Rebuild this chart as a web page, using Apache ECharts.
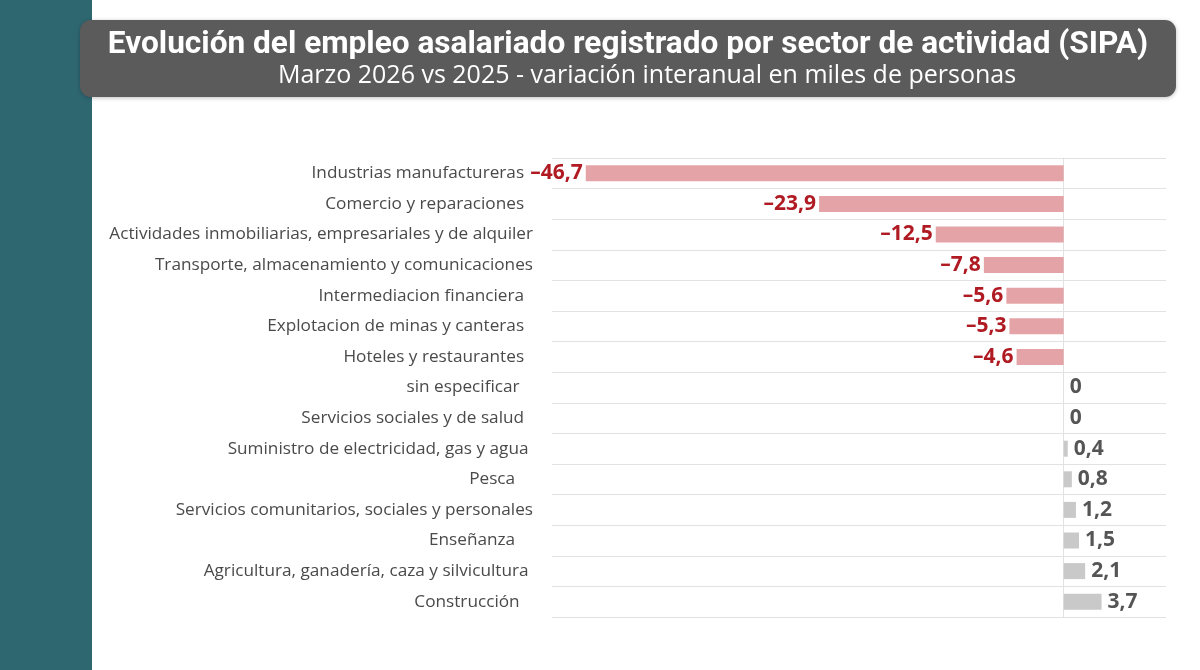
<!DOCTYPE html>
<html>
<head>
<meta charset="utf-8">
<script src="https://cdn.jsdelivr.net/npm/echarts@6/dist/echarts.min.js"></script>
<style>
  html, body { margin: 0; padding: 0; background: #fff; }
  #container { width: 1200px; height: 670px; }
</style>
</head>
<body>
<div id="container"></div>
<script>
// sectores (con espacios finales como en el original)
var sectores = [
  'Industrias manufactureras  ',
  'Comercio y reparaciones  ',
  'Actividades inmobiliarias, empresariales y de alquiler',
  'Transporte, almacenamiento y comunicaciones',
  'Intermediacion financiera  ',
  'Explotacion de minas y canteras  ',
  'Hoteles y restaurantes  ',
  'sin especificar   ',
  'Servicios sociales y de salud  ',
  'Suministro de electricidad, gas y agua ',
  'Pesca    ',
  'Servicios comunitarios, sociales y personales',
  'Enseñanza    ',
  'Agricultura, ganadería, caza y silvicultura ',
  'Construcción   '
];
// variación interanual en miles de personas
var variacion = [-46.7, -23.9, -12.5, -7.8, -5.6, -5.3, -4.6, 0, 0, 0.4, 0.8, 1.2, 1.5, 2.1, 3.7];
var ejeMin = -50;
var ejeMax = 10;

var titulo = 'Evolución del empleo asalariado registrado por sector de actividad (SIPA)';
var subtitulo = 'Marzo 2026 vs 2025 - variación interanual en miles de personas';

function fmt(v) {
  var s = String(Math.abs(v)).replace('.', ',');
  return v < 0 ? '\u2013' + s : s;
}

var datos = variacion.map(function (v) {
  var neg = v < 0;
  return {
    value: v,
    itemStyle: { color: neg ? '#e4a4a7' : '#c9c9c9' },
    label: {
      position: neg ? 'left' : 'right',
      distance: neg ? 3 : 6,
      color: neg ? '#b01a22' : '#555555'
    }
  };
});

var myChart = echarts.init(document.getElementById('container'));
var option = {
  backgroundColor: '#ffffff',
  animation: false,
  graphic: [
    {
      type: 'rect',
      shape: { x: 0, y: 0, width: 92, height: 670 },
      style: { fill: '#2f6771' },
      z: 0
    },
    {
      type: 'rect',
      shape: { x: 80, y: 20, width: 1096, height: 77, r: 11 },
      style: { fill: '#5b5b5b', shadowBlur: 4, shadowColor: 'rgba(0,0,0,0.25)', shadowOffsetY: 1 },
      z: 1
    },
    {
      type: 'text',
      x: 628, y: 45,
      style: {
        text: titulo,
        fill: '#ffffff',
        font: 'bold 31.6px Roboto, sans-serif',
        align: 'center',
        verticalAlign: 'middle'
      },
      z: 2
    },
    {
      type: 'text',
      x: 647, y: 76,
      style: {
        text: subtitulo,
        fill: '#ffffff',
        font: '25px "Open Sans", sans-serif',
        align: 'center',
        verticalAlign: 'middle'
      },
      z: 2
    }
  ],
  grid: {
    left: 552,
    right: 34,
    top: 158,
    bottom: 53,
    containLabel: false
  },
  xAxis: {
    type: 'value',
    min: ejeMin,
    max: ejeMax,
    axisLabel: { show: false },
    axisTick: { show: false },
    axisLine: { show: false },
    splitLine: { show: false }
  },
  yAxis: {
    type: 'category',
    inverse: true,
    data: sectores,
    axisTick: { show: false },
    axisLine: { show: true, onZero: true, lineStyle: { color: '#e2e2e2', width: 1 } },
    splitLine: { show: true, lineStyle: { color: '#e2e2e2', width: 1 } },
    axisLabel: {
      margin: 19,
      color: '#4a4a4a',
      fontSize: 17.2,
      fontFamily: '"Open Sans", "Noto Sans", sans-serif'
    }
  },
  series: [
    {
      type: 'bar',
      data: datos,
      barWidth: 16,
      label: {
        show: true,
        fontSize: 21,
        fontWeight: 'bold',
        fontFamily: '"Open Sans", sans-serif',
        formatter: function (p) { return fmt(p.value); }
      }
    }
  ]
};
myChart.setOption(option);
</script>
</body>
</html>
